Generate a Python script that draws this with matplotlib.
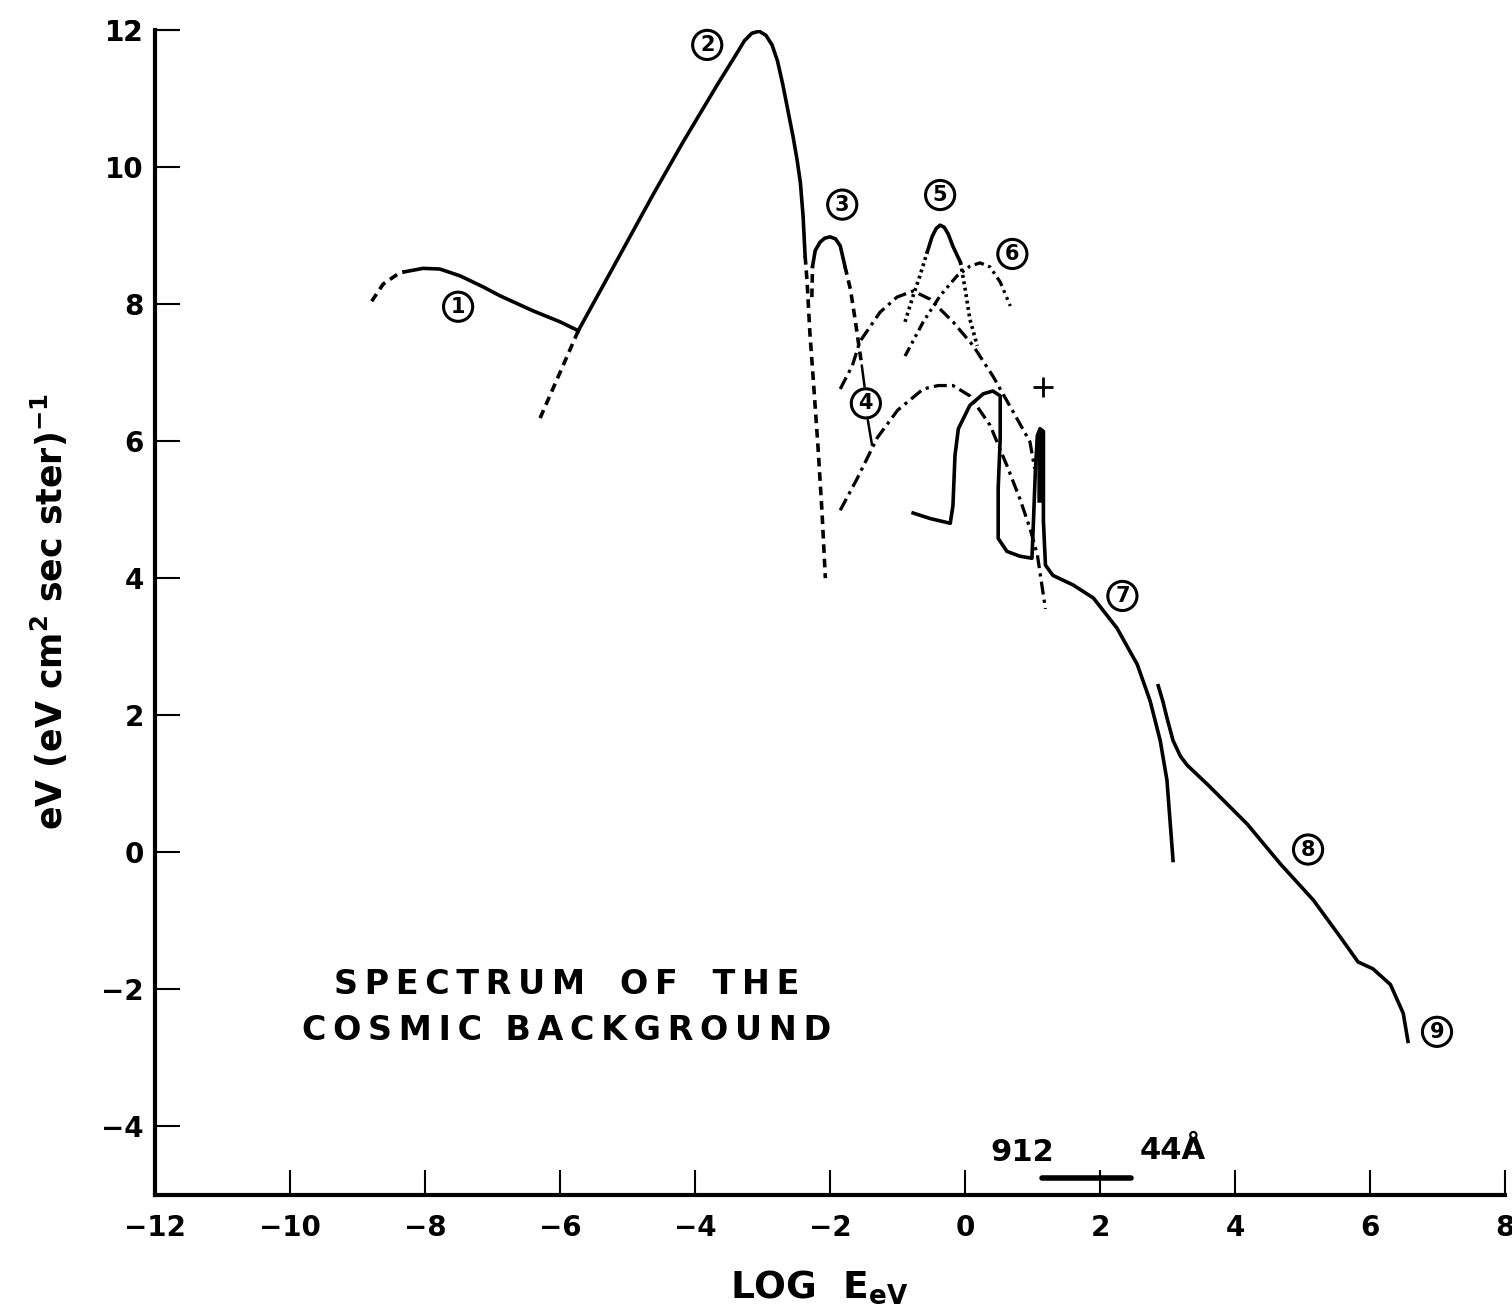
import matplotlib.pyplot as plt
import numpy as np

# (1) radio background
c1_dash_x = [-8.79, -8.62, -8.37, -8.30]
c1_dash_y = [8.04, 8.29, 8.46, 8.47]
c1_x = [-8.30, -8.03, -7.78, -7.48, -7.14, -6.89, -6.40, -6.00, -5.73]
c1_y = [8.47, 8.52, 8.51, 8.41, 8.25, 8.12, 7.90, 7.74, 7.61]

# (2) microwave / 3K peak
c2_low_x = [-5.73, -6.32]
c2_low_y = [7.61, 6.28]
c2_x = [-5.73, -5.11, -4.62, -4.18, -3.67, -3.38, -3.27, -3.16, -3.05,
        -2.95, -2.86, -2.78, -2.70, -2.62, -2.55, -2.49, -2.44, -2.40, -2.37]
c2_y = [7.61, 8.72, 9.60, 10.36, 11.20, 11.66, 11.84, 11.95, 11.98,
        11.92, 11.78, 11.55, 11.20, 10.80, 10.45, 10.11, 9.77, 9.28, 8.70]
c2_tail_x = [-2.37, -2.34, -2.30, -2.25, -2.18, -2.12, -2.07]
c2_tail_y = [8.70, 8.32, 7.59, 6.91, 5.93, 4.97, 4.00]

# (3) far infrared
c3_left_x = [-2.27, -2.26]
c3_left_y = [8.10, 8.55]
c3_x = [-2.26, -2.22, -2.15, -2.08, -2.00, -1.92, -1.85, -1.78]
c3_y = [8.55, 8.78, 8.90, 8.96, 8.98, 8.95, 8.85, 8.55]
c3_right_x = [-1.78, -1.70, -1.63, -1.56, -1.53]
c3_right_y = [8.55, 8.22, 7.78, 7.30, 7.10]

# (4) infrared, upper and lower estimates
c4u_x = [-1.85, -1.67, -1.56, -1.26, -1.01, -0.77, -0.52, -0.18, 0.12, 0.41,
         0.71, 0.96, 1.03]
c4u_y = [6.76, 7.10, 7.45, 7.88, 8.10, 8.19, 8.07, 7.74, 7.39, 6.95,
         6.43, 5.99, 5.60]
c4l_x = [-1.85, -1.60, -1.30, -1.00, -0.62, -0.40, -0.18, 0.07, 0.37, 0.62,
         0.81, 0.96, 1.07, 1.19]
c4l_y = [4.99, 5.45, 6.05, 6.45, 6.76, 6.81, 6.81, 6.66, 6.23, 5.64,
         5.16, 4.73, 4.34, 3.55]

# (5) starlight
c5_left_x = [-0.89, -0.77, -0.67, -0.56]
c5_left_y = [7.74, 8.12, 8.41, 8.76]
c5_x = [-0.56, -0.49, -0.43, -0.37, -0.31, -0.25, -0.18, -0.07]
c5_y = [8.76, 8.98, 9.10, 9.15, 9.12, 9.02, 8.84, 8.61]
c5_right_x = [-0.07, 0.00, 0.07, 0.18]
c5_right_y = [8.61, 8.22, 7.78, 7.39]

# (6) optical
c6_x = [-0.89, -0.62, -0.37, -0.12, 0.07, 0.22, 0.37, 0.52, 0.67]
c6_y = [7.24, 7.74, 8.12, 8.41, 8.55, 8.60, 8.54, 8.32, 7.97]

# (7) ultraviolet to soft X-ray
c7_x = [-0.77, -0.52, -0.22, -0.18, -0.15, -0.10, 0.07, 0.27, 0.41, 0.52,
        0.52, 0.49, 0.49, 0.62, 0.81, 0.99, 1.01, 1.04, 1.07, 1.11, 1.16,
        1.16, 1.16, 1.19, 1.30, 1.60, 1.90, 2.25, 2.55, 2.74, 2.89, 2.99, 3.08]
c7_y = [4.95, 4.87, 4.80, 5.06, 5.79, 6.18, 6.52, 6.69, 6.73, 6.66,
        6.04, 5.31, 4.58, 4.39, 4.32, 4.29, 4.77, 5.55, 6.08, 6.18, 6.14,
        5.55, 4.83, 4.19, 4.04, 3.90, 3.71, 3.27, 2.74, 2.21, 1.63, 1.05, -0.12]
spike_x = [1.07, 1.11, 1.16, 1.16, 1.07]
spike_y = [6.08, 6.18, 6.14, 5.10, 5.10]

# (8)-(9) X-ray and gamma ray
c8_x = [2.86, 2.93, 2.99, 3.08, 3.19, 3.29, 3.59, 4.18, 4.67, 5.16, 5.56,
        5.82, 6.04, 6.30, 6.49, 6.56]
c8_y = [2.43, 2.20, 1.96, 1.63, 1.40, 1.27, 0.99, 0.41, -0.17, -0.70, -1.24,
        -1.60, -1.70, -1.93, -2.35, -2.76]

# circled curve labels
label_num = ['1', '2', '3', '4', '5', '6', '7', '8', '9']
label_x = [-7.51, -3.82, -1.82, -1.47, -0.37, 0.70, 2.33, 5.08, 6.99]
label_y = [7.96, 11.78, 9.45, 6.55, 9.59, 8.73, 3.74, 0.04, -2.62]

# wavelength band marker (angstrom)
band_lambda = [912, 44]
HC_EV_A = 12398.4

xticks = list(range(-12, 9, 2))
yticks = list(range(-4, 13, 2))

fig = plt.figure(figsize=(15.12, 13.15), dpi=100)
ax = fig.add_axes([0.1025, 0.0913, 0.893, 0.886])

LW = 2.6
dash = (2.4, 1.6)
dot = (0.8, 1.0)
dashdot = (4.0, 1.6, 1.0, 1.6)
dashdotdot = (3.0, 1.4, 0.9, 1.4, 0.9, 1.4)
k = 'black'

ax.plot(c1_dash_x, c1_dash_y, color=k, lw=LW, dashes=dash)
ax.plot(c1_x, c1_y, color=k, lw=LW)
ax.plot(c2_low_x, c2_low_y, color=k, lw=LW, dashes=dash)
ax.plot(c2_x, c2_y, color=k, lw=LW)
ax.plot(c2_tail_x, c2_tail_y, color=k, lw=LW, dashes=dash)
ax.plot(c3_left_x, c3_left_y, color=k, lw=LW, dashes=dash)
ax.plot(c3_x, c3_y, color=k, lw=LW)
ax.plot(c3_right_x, c3_right_y, color=k, lw=LW, dashes=dash)
ax.plot(c4u_x, c4u_y, color=k, lw=LW * 0.9, dashes=dashdot)
ax.plot(c4l_x, c4l_y, color=k, lw=LW * 0.9, dashes=dashdot)
ax.plot(c5_left_x, c5_left_y, color=k, lw=LW, dashes=dot)
ax.plot(c5_x, c5_y, color=k, lw=LW)
ax.plot(c5_right_x, c5_right_y, color=k, lw=LW, dashes=dot)
ax.plot(c6_x, c6_y, color=k, lw=LW * 0.9, dashes=dashdotdot)
ax.plot(c7_x, c7_y, color=k, lw=LW, solid_joinstyle='round')
ax.fill(spike_x, spike_y, color=k, lw=0)
ax.plot(c8_x, c8_y, color=k, lw=LW)

# leader lines for label 4
ax.plot([-1.53, -1.49], [7.10, 6.80], color=k, lw=1.8)
ax.plot([-1.44, -1.38], [6.30, 5.95], color=k, lw=1.8)

for s, x, y in zip(label_num, label_x, label_y):
    ax.text(x, y, s, fontsize=15, fontweight='bold', ha='center', va='center',
            bbox=dict(boxstyle='circle,pad=0.22', fc='white', ec=k, lw=2.2))

ax.plot([1.16], [6.79], marker='+', ms=14, mew=2, color=k)

band = [np.log10(HC_EV_A / w) for w in band_lambda]
ax.plot(band, [-4.75, -4.75], color=k, lw=4, solid_capstyle='round')
ax.text(0.84, -4.38, '912', fontsize=22, fontweight='bold',
        ha='center', va='center')
ax.text(3.07, -4.35, '44Å', fontsize=22, fontweight='bold',
        ha='center', va='center')

sp = '\u2009'
line1 = '   '.join(sp.join(w) for w in ['SPECTRUM', 'OF', 'THE'])
line2 = '  '.join(sp.join(w) for w in ['COSMIC', 'BACKGROUND'])
ax.text(-5.9, -2.27, line1 + '\n' + line2, fontsize=24, fontweight='bold',
        ha='center', va='center', linespacing=1.5)

ax.set_xlim(-12, 8)
ax.set_ylim(-5, 12)
ax.set_xticks(xticks)
ax.set_yticks(yticks + [12])
for side in ('top', 'right'):
    ax.spines[side].set_visible(False)
for side in ('left', 'bottom'):
    ax.spines[side].set_linewidth(3)
ax.tick_params(direction='in', length=18, width=1.5, labelsize=20)
ax.tick_params(axis='x', pad=14)
ax.tick_params(axis='y', pad=8)
for lab in ax.get_xticklabels() + ax.get_yticklabels():
    lab.set_fontweight('bold')

fig.text(0.033, 0.535, 'eV (eV cm$^\\mathbf{2}$ sec ster)$^\\mathbf{-1}$',
         rotation=90, fontsize=25, fontweight='bold', ha='center', va='center')
fig.text(0.542, 0.021, 'LOG  E$_\\mathbf{eV}$', fontsize=27, fontweight='bold',
         ha='center', va='center')

fig.savefig('out.png', dpi=100)
